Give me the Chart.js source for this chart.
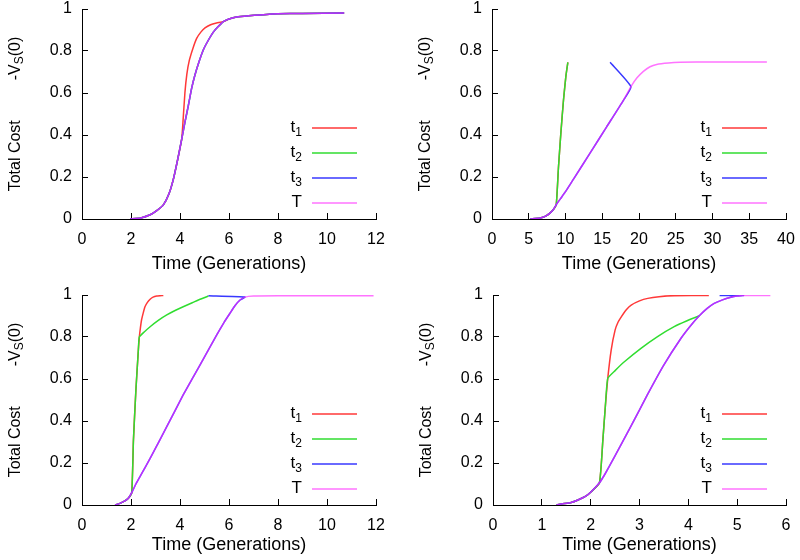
<!DOCTYPE html>
<html>
<head>
<meta charset="utf-8">
<script src="https://cdn.jsdelivr.net/npm/chart.js@4.4.0/dist/chart.umd.min.js"></script>
<style>
html, body { margin: 0; padding: 0; background: #fff; }
#wrap { position: relative; width: 800px; height: 560px; }
.panel { position: absolute; width: 400px; height: 280px; }
</style>
</head>
<body>
<div id="wrap">
  <div class="panel" style="left:0;top:0"><canvas id="c1" width="400" height="280"></canvas></div>
  <div class="panel" style="left:400px;top:0"><canvas id="c2" width="400" height="280"></canvas></div>
  <div class="panel" style="left:0;top:280px"><canvas id="c3" width="400" height="280"></canvas></div>
  <div class="panel" style="left:400px;top:280px"><canvas id="c4" width="400" height="280"></canvas></div>
</div>
<script>
// series names (main letter, subscript) and colours
var seriesNames = [['t', '1'], ['t', '2'], ['t', '3'], ['T', '']];
var seriesColors = ['#ff3838', '#30dd30', '#3838ff', 'rgba(255,40,255,0.65)'];
var yTicksStep = 0.2;

// panel 1 (top left)
var p1_T = [[1.96,0],[2.4,0.005],[2.78,0.02],[3.05,0.04],[3.32,0.067],[3.55,0.12],[3.73,0.19],[3.9,0.28],[4.07,0.38],[4.2,0.46],[4.34,0.54],[4.47,0.62],[4.61,0.686],[4.78,0.75],[4.95,0.805],[5.15,0.85],[5.36,0.89],[5.55,0.915],[5.77,0.94],[6.0,0.952],[6.31,0.962],[6.8,0.968],[7.27,0.972],[8,0.977],[9,0.979],[10.7,0.981]];
var p1_t1Branch = [[4.12,0.46],[4.2,0.6],[4.28,0.69],[4.38,0.755],[4.52,0.81],[4.68,0.86],[4.85,0.89],[5.02,0.91],[5.25,0.925],[5.49,0.933]];

// panel 2 (top right)
var p2_T = [[5.2,0],[6.56,0.005],[7.3,0.014],[7.92,0.029],[8.35,0.045],[8.74,0.068],[9.3,0.096],[10,0.13],[11.09,0.19],[13.36,0.315],[15.62,0.44],[17.88,0.565],[18.9,0.63],[19.7,0.671],[20.6,0.703],[21.5,0.725],[22.4,0.736],[24,0.743],[25.6,0.746],[30,0.748],[37.4,0.748]];
var p2_t2Branch = [[9.05,0.25],[9.37,0.41],[9.73,0.568],[10.05,0.679],[10.32,0.746]];
var p2_t3Branch = [[16.07,0.746]];

// panel 3 (bottom left)
var p3_T = [[1.35,0],[1.55,0.008],[1.75,0.02],[1.89,0.032],[2.03,0.059],[2.2,0.1],[2.4,0.142],[2.78,0.222],[3.46,0.373],[4.13,0.524],[4.82,0.667],[5.5,0.81],[5.8,0.87],[6.04,0.913],[6.25,0.95],[6.45,0.976],[6.65,0.99],[7,0.995],[8,0.996],[11.9,0.996]];
var p3_t2Branch = [[2.1,0.31],[2.2,0.548],[2.3,0.738],[2.34,0.8],[2.55,0.825],[2.78,0.849],[3.1,0.878],[3.46,0.905],[3.8,0.926],[4.13,0.944],[4.5,0.963],[4.82,0.98],[5.16,0.995]];
var p3_t1Branch = [[2.38,0.84],[2.43,0.881],[2.5,0.915],[2.57,0.944],[2.67,0.965],[2.78,0.98],[2.9,0.99],[3.05,0.995],[3.32,0.998]];
var p3_t3Branch = [[5.16,0.996]];

// panel 4 (bottom right)
var p4_T = [[1.3,0],[1.4,0.005],[1.6,0.012],[1.74,0.024],[1.9,0.042],[2.01,0.063],[2.18,0.106],[2.3,0.15],[2.49,0.23],[2.82,0.373],[3.16,0.524],[3.5,0.667],[3.85,0.794],[4.05,0.855],[4.22,0.9],[4.38,0.935],[4.53,0.96],[4.7,0.977],[4.87,0.989],[5.0,0.995],[5.13,0.998],[5.68,0.998]];
var p4_t2Branch = [[2.25,0.31],[2.3,0.468],[2.35,0.603],[2.5,0.64],[2.69,0.682],[3.03,0.746],[3.37,0.802],[3.71,0.849],[3.95,0.875],[4.22,0.9]];
var p4_t1Branch = [[2.42,0.738],[2.5,0.833],[2.56,0.87],[2.63,0.897],[2.73,0.93],[2.83,0.952],[3.0,0.972],[3.17,0.984],[3.4,0.992],[3.71,0.997],[4.42,0.998]];
var p4_t3Branch = [[4.64,0.998]];

function upTo(arr, x) { return arr.filter(function (p) { return p[0] <= x; }); }
function from(arr, x) { return arr.filter(function (p) { return p[0] >= x; }); }

var p1_t1 = upTo(p1_T, 4.07).concat(p1_t1Branch, from(p1_T, 5.77));
var p2_t2 = upTo(p2_T, 8.74).concat(p2_t2Branch);
var p2_t3 = upTo(p2_T, 18.9).concat(p2_t3Branch);
var p3_t2 = upTo(p3_T, 2.03).concat(p3_t2Branch);
var p3_t1 = upTo(p3_t2, 2.34).concat(p3_t1Branch);
var p3_t3 = upTo(p3_T, 6.65).concat(p3_t3Branch);
var p4_t2 = upTo(p4_T, 2.18).concat(p4_t2Branch);
var p4_t1 = upTo(p4_t2, 2.35).concat(p4_t1Branch);
var p4_t3 = upTo(p4_T, 5.13).concat(p4_t3Branch);

Chart.defaults.font.family = '"Liberation Sans", Arial, Helvetica, sans-serif';
Chart.defaults.color = '#000';

// y title with subscript, and the key in the lower right
var decor = {
  id: 'decor',
  afterDraw: function (chart) {
    var c = chart.ctx, a = chart.chartArea;
    var fam = Chart.defaults.font.family;
    c.save();
    c.fillStyle = '#000';
    c.textBaseline = 'middle';
    var parts = [
      { t: 'Total Cost', s: 16, dy: 0 },
      { gap: 40 },
      { t: '-V', s: 16, dy: 0 },
      { t: 'S', s: 12, dy: 4 },
      { t: '(0)', s: 16, dy: 0 }
    ];
    var total = 0;
    parts.forEach(function (p) {
      if (p.gap) { p.w = p.gap; } else { c.font = p.s + 'px ' + fam; p.w = c.measureText(p.t).width; }
      total += p.w;
    });
    c.translate(a.left - 66, (a.top + a.bottom) / 2);
    c.rotate(-Math.PI / 2);
    c.textAlign = 'left';
    var x = -total / 2;
    parts.forEach(function (p) {
      if (!p.gap) { c.font = p.s + 'px ' + fam; c.fillText(p.t, x, p.dy); }
      x += p.w;
    });
    c.restore();

    c.save();
    c.textBaseline = 'middle';
    c.fillStyle = '#000';
    for (var i = 0; i < seriesNames.length; i++) {
      var y = a.bottom - 91 + 25 * i;
      c.strokeStyle = seriesColors[i];
      c.lineWidth = 1.5;
      c.beginPath();
      c.moveTo(a.right - 64, y);
      c.lineTo(a.right - 19, y);
      c.stroke();
      var main = seriesNames[i][0], sub = seriesNames[i][1];
      c.font = '12px ' + fam;
      var sw = sub ? c.measureText(sub).width : 0;
      var xr = a.right - 74;
      if (sub) { c.textAlign = 'right'; c.fillText(sub, xr, y + 5); }
      c.font = '17px ' + fam;
      c.textAlign = 'right';
      c.fillText(main, xr - sw, y - 1);
    }
    c.restore();
  }
};

function makePanel(id, xMax, xStep, box, sets) {
  var ctx = document.getElementById(id).getContext('2d');
  return new Chart(ctx, {
    type: 'line',
    data: {
      datasets: sets.map(function (pts, i) {
        return {
          label: seriesNames[i].join(''),
          data: pts.map(function (p) { return { x: p[0], y: p[1] }; }),
          borderColor: seriesColors[i],
          borderWidth: 1.5,
          pointRadius: 0,
          tension: 0.15,
          fill: false,
          order: 4 - i
        };
      })
    },
    options: {
      responsive: false,
      animation: false,
      events: [],
      layout: { padding: { left: 0, top: box.top, right: 400 - box.right, bottom: 0 } },
      plugins: { legend: { display: false }, tooltip: { enabled: false } },
      scales: {
        x: {
          type: 'linear', min: 0, max: xMax,
          ticks: { stepSize: xStep, padding: 17, font: { size: 16 }, color: '#000', maxRotation: 0 },
          grid: { drawOnChartArea: false, drawTicks: true, tickLength: -6, color: '#000' },
          border: { color: '#000', width: 1 },
          title: { display: true, text: 'Time (Generations)', font: { size: 18 }, color: '#000', padding: { top: 0, bottom: box.tpad } },
          afterFit: function (s) { s.height = 280 - box.bottom; s.paddingLeft = 0; s.paddingRight = 0; }
        },
        y: {
          type: 'linear', min: 0, max: 1,
          ticks: {
            stepSize: yTicksStep, padding: 16, font: { size: 16 }, color: '#000',
            callback: function (v) { return String(Math.round(v * 10) / 10); }
          },
          grid: { drawOnChartArea: false, drawTicks: true, tickLength: -6, color: '#000' },
          border: { color: '#000', width: 1 },
          afterFit: function (s) { s.width = box.left; s.paddingTop = 0; s.paddingBottom = 0; }
        }
      }
    },
    plugins: [decor]
  });
}

makePanel('c1', 12, 2, { left: 82, right: 376, top: 9, bottom: 219, tpad: 5 }, [p1_t1, p1_T, p1_T, p1_T]);
makePanel('c2', 40, 5, { left: 92, right: 386, top: 9, bottom: 219, tpad: 5 }, [p2_t2, p2_t2, p2_t3, p2_T]);
makePanel('c3', 12, 2, { left: 82, right: 376, top: 15, bottom: 225, tpad: 4 }, [p3_t1, p3_t2, p3_t3, p3_T]);
makePanel('c4', 6, 1, { left: 93, right: 386, top: 15, bottom: 225, tpad: 4 }, [p4_t1, p4_t2, p4_t3, p4_T]);
</script>
</body>
</html>
